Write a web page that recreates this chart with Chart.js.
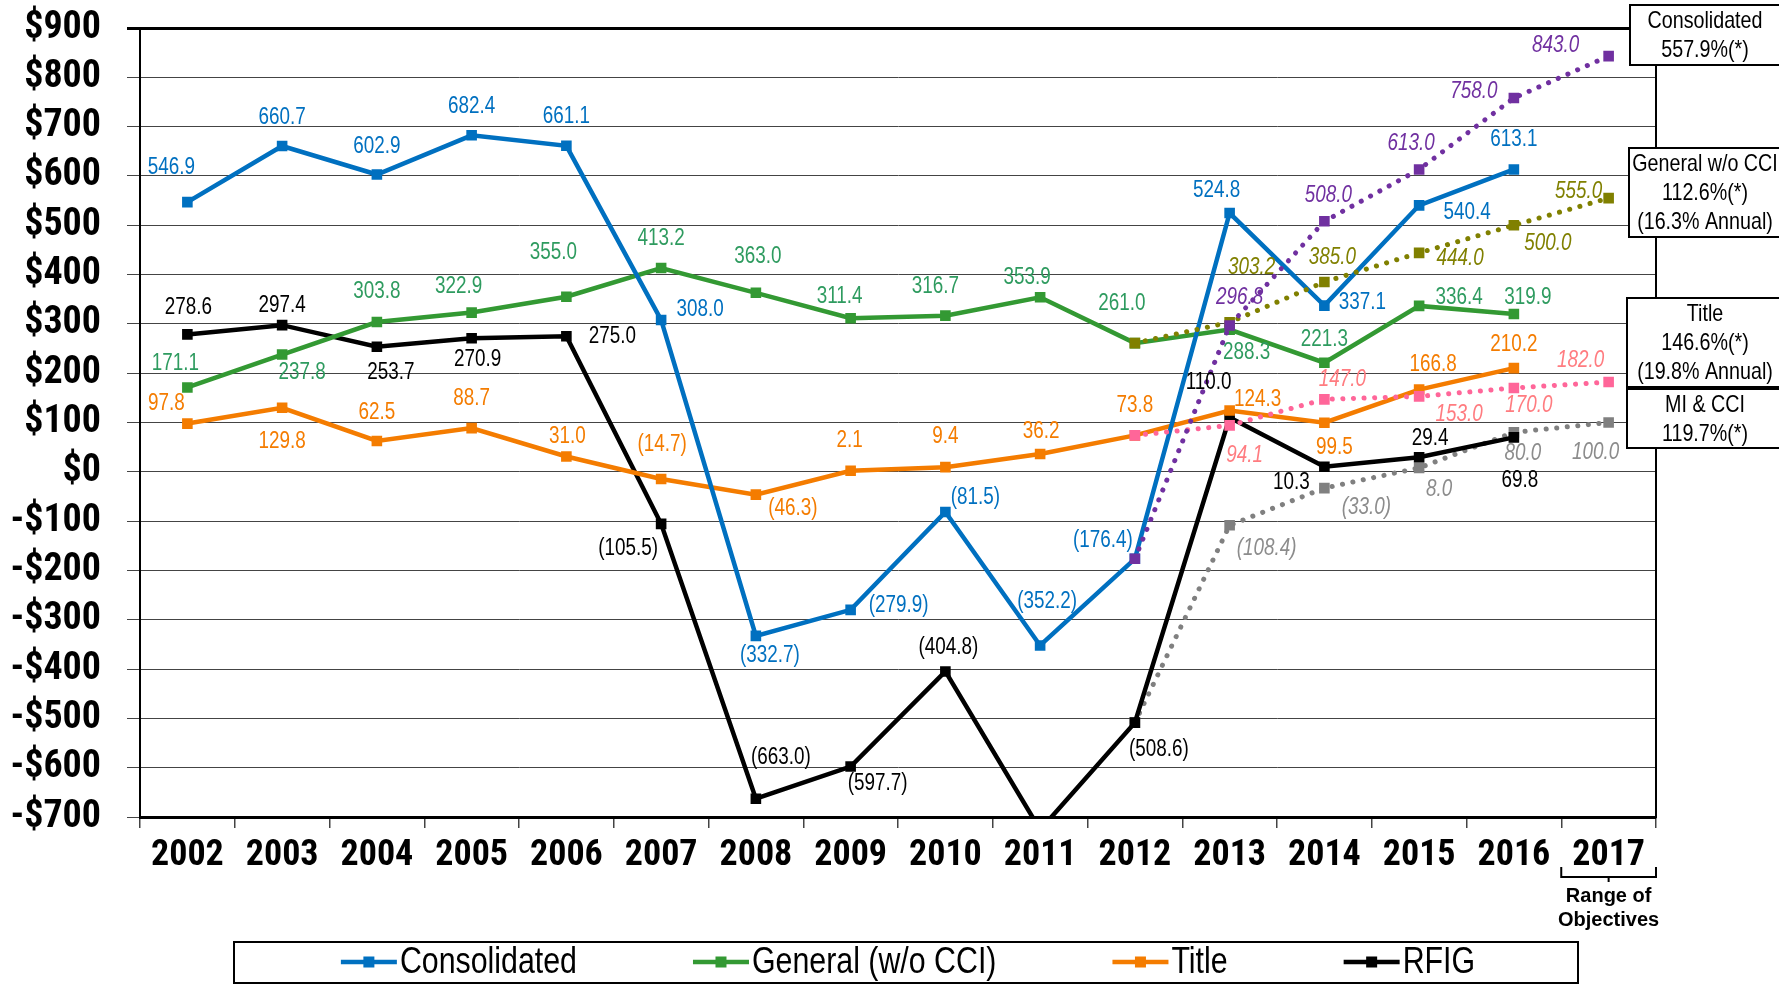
<!DOCTYPE html>
<html>
<head>
<meta charset="utf-8">
<script src="https://cdn.jsdelivr.net/npm/chart.js@4.4.0/dist/chart.umd.min.js"></script>
<style>
  html, body { margin: 0; padding: 0; background: #fff; }
</style>
</head>
<body>
<canvas id="chart" width="1779" height="985"></canvas>
<script>
// ---- data ----
var years = ['2002', '2003', '2004', '2005', '2006', '2007', '2008', '2009', '2010', '2011', '2012', '2013', '2014', '2015', '2016', '2017'];

var consolidated = [546.9, 660.7, 602.9, 682.4, 661.1, 308.0, -332.7, -279.9, -81.5, -352.2, -176.4, 524.8, 337.1, 540.4, 613.1, null];
var general = [171.1, 237.8, 303.8, 322.9, 355.0, 413.2, 363.0, 311.4, 316.7, 353.9, 261.0, 288.3, 221.3, 336.4, 319.9, null];
var title = [97.8, 129.8, 62.5, 88.7, 31.0, -14.7, -46.3, 2.1, 9.4, 36.2, 73.8, 124.3, 99.5, 166.8, 210.2, null];
// 2011 RFIG runs off the bottom of the chart, value estimated from the slope
var rfig = [278.6, 297.4, 253.7, 270.9, 275.0, -105.5, -663.0, -597.7, -404.8, -726.0, -508.6, 110.0, 10.3, 29.4, 69.8, null];

// range of objectives, starting from the 2012 actuals
var objConsolidated = [null, null, null, null, null, null, null, null, null, null, -176.4, 296.8, 508.0, 613.0, 758.0, 843.0];
var objGeneral = [null, null, null, null, null, null, null, null, null, null, 261.0, 303.2, 385.0, 444.0, 500.0, 555.0];
var objTitle = [null, null, null, null, null, null, null, null, null, null, 73.8, 94.1, 147.0, 153.0, 170.0, 182.0];
var objMiCci = [null, null, null, null, null, null, null, null, null, null, -508.6, -108.4, -33.0, 8.0, 80.0, 100.0];

var yMin = -700, yMax = 900, yStep = 100;

var noteConsolidated = ['Consolidated', '557.9%(*)'];
var noteGeneral = ['General w/o CCI', '112.6%(*)', '(16.3% Annual)'];
var noteTitle = ['Title', '146.6%(*)', '(19.8% Annual)'];
var noteMiCci = ['MI & CCI', '119.7%(*)'];

// ---- label placement (dx, dy from the point) ----
var offConsolidated = [[-16,-34],[0,-28],[0,-28],[0,-29],[0,-29],[39,-10],[14,20],[48,-4],[30,-14],[7,-44],[-32,-18],[-13,-22],[38,-3],[48,7],[0,-30],null];
var offGeneral = [[-12,-24],[20,18],[0,-30],[-13,-26],[-13,-44],[0,-29],[2,-36],[-11,-22],[-10,-29],[-13,-20],[-13,-39],[17,23],[0,-23],[40,-8],[14,-16],null];
var offTitle = [[-21,-20],[0,34],[0,-28],[0,-29],[1,-20],[1,-34],[37,14],[-1,-30],[0,-31],[1,-22],[0,-30],[28,-11],[10,25],[14,-25],[0,-24],null];
var offRfig = [[1,-27],[0,-20],[14,26],[6,21],[46,0],[-33,25],[25,-41],[27,17],[3,-24],null,[24,27],[-21,-35],[-33,16],[11,-19],[6,43],null];
var offObjConsolidated = [null,null,null,null,null,null,null,null,null,null,null,[10,-28],[4,-26],[-8,-26],[-40,-6],[-53,-10]];
var offObjGeneral = [null,null,null,null,null,null,null,null,null,null,null,[22,-55],[8,-24],[41,6],[34,18],[-30,-7]];
var offObjTitle = [null,null,null,null,null,null,null,null,null,null,null,[15,30],[18,-20],[40,18],[15,18],[-28,-21]];
var offObjMiCci = [null,null,null,null,null,null,null,null,null,null,null,[37,23],[42,20],[20,22],[9,21],[-13,30]];

// Arial Narrow look: Liberation Sans squeezed to 82%
var SANS = "'Liberation Sans', Arial, sans-serif";
var SQUEEZE = 0.82;

// is a condensed face installed for the axis labels?
function hasFont(name) {
    var c = document.createElement('canvas').getContext('2d');
    var s = 'abcdefghijklmnopqrstuvwxyz0123456789$';
    c.font = '40px monospace';
    var a = c.measureText(s).width;
    c.font = "40px '" + name + "', monospace";
    return c.measureText(s).width !== a;
}
var condensed = hasFont('Roboto Condensed');
var AXIS_FONT = condensed ? "'Roboto Condensed', " + SANS : SANS;
var xTickSize = condensed ? 36 : 30;
var yTickSize = condensed ? 38 : 32;

Chart.defaults.font.family = AXIS_FONT;
Chart.defaults.color = '#000';

function fmt(v) {
    return v < 0 ? '(' + (-v).toFixed(1) + ')' : v.toFixed(1);
}

function narrowText(ctx, text, x, y, font) {
    ctx.save();
    ctx.font = font;
    ctx.translate(x, y);
    ctx.scale(SQUEEZE, 1);
    ctx.fillText(text, 0, 0);
    ctx.restore();
}

function solid(label, data, color, labelColor, offsets, order) {
    return {
        label: label, data: data, order: order,
        borderColor: color, backgroundColor: color,
        borderWidth: 4.5, tension: 0,
        pointStyle: 'rect', pointRadius: 7.5, pointHoverRadius: 7.5,
        pointBackgroundColor: color, pointBorderColor: color, pointBorderWidth: 0,
        labelColor: labelColor, labelItalic: false, labelOffsets: offsets, inLegend: true
    };
}

function dotted(label, data, color, labelColor, offsets, order) {
    return {
        label: label, data: data, order: order,
        borderColor: color, backgroundColor: color,
        borderWidth: 5, borderDash: [0.1, 10.5], borderCapStyle: 'round', tension: 0,
        pointStyle: 'rect', pointRadius: 7.5, pointHoverRadius: 7.5,
        pointBackgroundColor: color, pointBorderColor: color, pointBorderWidth: 0,
        labelColor: labelColor, labelItalic: true, labelOffsets: offsets, inLegend: false
    };
}

//draws the value next to each point
var pointLabels = {
    id: 'pointLabels',
    afterDatasetsDraw: function(chart) {
        var ctx = chart.ctx;
        chart.data.datasets.forEach(function(ds, i) {
            var meta = chart.getDatasetMeta(i);
            var font = (ds.labelItalic ? 'italic ' : '') + '23px ' + SANS;
            ctx.save();
            ctx.fillStyle = ds.labelColor;
            ctx.textAlign = 'center';
            ctx.textBaseline = 'middle';
            meta.data.forEach(function(pt, j) {
                var v = ds.data[j];
                var off = ds.labelOffsets[j];
                if (v === null || !off) return;
                narrowText(ctx, fmt(v), pt.x + off[0], pt.y + off[1], font);
            });
            ctx.restore();
        });
    }
};

//boxes on the right, bracket under 2017 and the legend
var extras = {
    id: 'extras',
    afterDraw: function(chart) {
        var ctx = chart.ctx;
        var area = chart.chartArea;
        var xs = chart.scales.x;

        // notes
        var notes = [
            {lines: noteConsolidated, left: 1630, top: 5, bottom: 65, first: 21},
            {lines: noteGeneral, left: 1629, top: 148, bottom: 237, first: 164},
            {lines: noteTitle, left: 1627, top: 298, bottom: 387, first: 314},
            {lines: noteMiCci, left: 1627, top: 389, bottom: 448, first: 405}
        ];
        ctx.save();
        ctx.textAlign = 'center';
        ctx.textBaseline = 'middle';
        notes.forEach(function(n) {
            ctx.fillStyle = '#fff';
            ctx.fillRect(n.left, n.top, 200, n.bottom - n.top);
            ctx.strokeStyle = '#000';
            ctx.lineWidth = 2;
            ctx.strokeRect(n.left, n.top, 200, n.bottom - n.top);
            ctx.fillStyle = '#000';
            n.lines.forEach(function(t, k) {
                narrowText(ctx, t, 1705, n.first + k * 29, '24px ' + SANS);
            });
        });

        // range of objectives bracket
        var cx = xs.getPixelForValue(15);
        var right = area.right;
        var left = 2 * cx - right;
        ctx.strokeStyle = '#000';
        ctx.lineWidth = 2;
        ctx.beginPath();
        ctx.moveTo(left, 867); ctx.lineTo(left, 877); ctx.lineTo(right, 877); ctx.lineTo(right, 867);
        ctx.moveTo(cx, 877); ctx.lineTo(cx, 882);
        ctx.stroke();
        ctx.font = 'bold 20px ' + SANS;
        ctx.fillText('Range of', cx, 896);
        ctx.fillText('Objectives', cx, 920);

        // legend
        var items = chart.data.datasets.filter(function(d) { return d.inLegend; });
        var lfont = '37px ' + SANS;
        ctx.font = lfont;
        var markW = 56, gapText = 3, gapItem = 116;
        var widths = items.map(function(d) { return markW + gapText + ctx.measureText(d.label).width * SQUEEZE; });
        var total = widths.reduce(function(a, b) { return a + b; }) + gapItem * (items.length - 1);
        var x = 908 - total / 2;
        var y = 962;
        ctx.strokeStyle = '#000';
        ctx.lineWidth = 2;
        ctx.strokeRect(234, 942, 1344, 41);
        items.forEach(function(d, k) {
            ctx.strokeStyle = d.borderColor;
            ctx.lineWidth = 4.5;
            ctx.beginPath();
            ctx.moveTo(x, y); ctx.lineTo(x + markW, y);
            ctx.stroke();
            ctx.fillStyle = d.borderColor;
            ctx.fillRect(x + markW / 2 - 5.5, y - 5.5, 11, 11);
            ctx.fillStyle = '#000';
            ctx.textAlign = 'left';
            narrowText(ctx, d.label, x + markW + gapText, y + 1, lfont);
            x += widths[k] + gapItem;
        });
        ctx.restore();
    }
};

var chart = new Chart(document.getElementById('chart'), {
    type: 'line',
    data: {
        labels: years,
        datasets: [
            solid('Consolidated', consolidated, '#0070C0', '#0070C0', offConsolidated, 2),
            solid('General (w/o CCI)', general, '#339933', '#2E9B5F', offGeneral, 2),
            solid('Title', title, '#F47C00', '#F47C00', offTitle, 2),
            solid('RFIG', rfig, '#000000', '#000000', offRfig, 2),
            dotted('Consolidated objectives', objConsolidated, '#7030A0', '#7030A0', offObjConsolidated, 1),
            dotted('General objectives', objGeneral, '#808000', '#808000', offObjGeneral, 1),
            dotted('Title objectives', objTitle, '#FF6699', '#FF7C80', offObjTitle, 1),
            dotted('MI & CCI objectives', objMiCci, '#808080', '#8C8C8C', offObjMiCci, 3)
        ]
    },
    options: {
        responsive: false,
        animation: false,
        events: [],
        layout: { padding: { top: 28, left: 0, right: 0, bottom: 0 } },
        plugins: {
            legend: { display: false },
            tooltip: { enabled: false }
        },
        scales: {
            x: {
                offset: true,
                grid: { offset: true, drawOnChartArea: false, tickLength: 11, color: '#444', lineWidth: 1.5 },
                border: { color: '#000', width: 3 },
                ticks: { font: { size: xTickSize, weight: 'bold' }, padding: 6, maxRotation: 0, autoSkip: false, color: '#000' },
                afterFit: function(s) { s.height = 168; s.paddingLeft = 0; s.paddingRight = 0; }
            },
            y: {
                min: yMin, max: yMax,
                ticks: {
                    stepSize: yStep,
                    autoSkip: false,
                    font: { size: yTickSize, weight: 'bold' },
                    padding: 26,
                    color: '#000',
                    callback: function(v) { return v < 0 ? '-$' + (-v) : '$' + v; }
                },
                grid: {
                    color: function(c) { return c.tick && c.tick.value === yMax ? '#000' : '#444'; },
                    lineWidth: function(c) { return c.tick && c.tick.value === yMax ? 3 : 1; },
                    tickLength: 13
                },
                border: { color: '#000', width: 2 },
                afterFit: function(s) { s.width = 140; s.paddingTop = 0; s.paddingBottom = 0; }
            },
            y2: {
                position: 'right',
                grid: { display: false },
                ticks: { display: false },
                border: { display: true, color: '#000', width: 2 },
                afterFit: function(s) { s.width = 123; s.paddingTop = 0; s.paddingBottom = 0; }
            }
        }
    },
    plugins: [pointLabels, extras]
});
</script>
</body>
</html>
